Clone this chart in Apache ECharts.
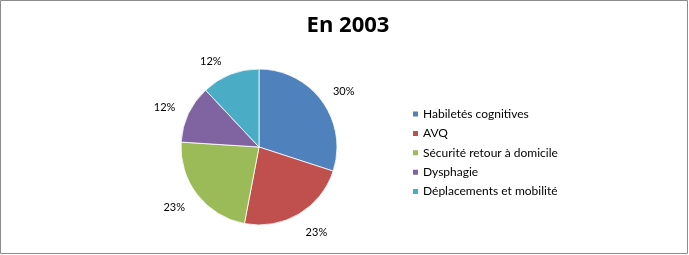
<!DOCTYPE html>
<html>
<head>
<meta charset="utf-8">
<script src="https://cdn.jsdelivr.net/npm/echarts@6/dist/echarts.min.js"></script>
<style>html,body{margin:0;padding:0;background:#fff}#c{width:689px;height:255px}</style>
</head>
<body>
<div id="c"></div>
<script>
const title = "En 2003";
const categories = ["Habiletés cognitives", "AVQ", "Sécurité retour à domicile", "Dysphagie", "Déplacements et mobilité"];
const values = [30, 23, 23, 12, 12];
const colors = ["#4F81BD", "#C0504D", "#9BBB59", "#8064A2", "#4BACC6"];

// label nudges (style only, px)
const labelNudge = [[3, 4], [6, -1], [-5, -1], [-3, 3], [-11, 8]];

const font = "Lato, 'Open Sans', sans-serif";
const data = categories.map((c, i) => ({ name: c, value: values[i], itemStyle: { color: colors[i] } }));
const chart = echarts.init(document.getElementById('c'), null, { renderer: 'canvas' });
chart.setOption({
  animation: false,
  title: {
    text: title, left: 343, top: 10, textAlign: 'center',
    textStyle: { fontFamily: "'Open Sans', sans-serif", fontWeight: 'bold', fontSize: 22, color: '#000' }
  },
  legend: {
    orient: 'vertical', left: 406, top: 103,
    itemWidth: 7, itemHeight: 7, itemGap: 7.4, icon: 'rect',
    textStyle: { fontFamily: font, fontSize: 12, color: '#000', lineHeight: 12, padding: [0, 0, 0, -1] },
    data: categories
  },
  graphic: [{
    type: 'rect', shape: { x: 0.5, y: 0.5, width: 687, height: 253 },
    style: { fill: 'none', stroke: '#8c8c8c', lineWidth: 1 }, silent: true
  }],
  series: [{
    type: 'pie', center: [259, 147], radius: [0, 78], startAngle: 90, clockwise: true,
    data: data, label: { show: false }, labelLine: { show: false },
    itemStyle: { borderColor: '#fff', borderWidth: 0.8 }, silent: true
  }, {
    type: 'pie', center: [259, 147], radius: [80, 116], startAngle: 90, clockwise: true,
    data: categories.map((c, i) => ({
      name: c, value: values[i], itemStyle: { color: 'rgba(0,0,0,0)' },
      label: { offset: labelNudge[i] }
    })),
    label: { show: true, position: 'inside', formatter: p => p.value + '%', fontFamily: font, fontSize: 11, color: '#000' },
    labelLine: { show: false }, silent: true, legendHoverLink: false
  }]
});
</script>
</body>
</html>
